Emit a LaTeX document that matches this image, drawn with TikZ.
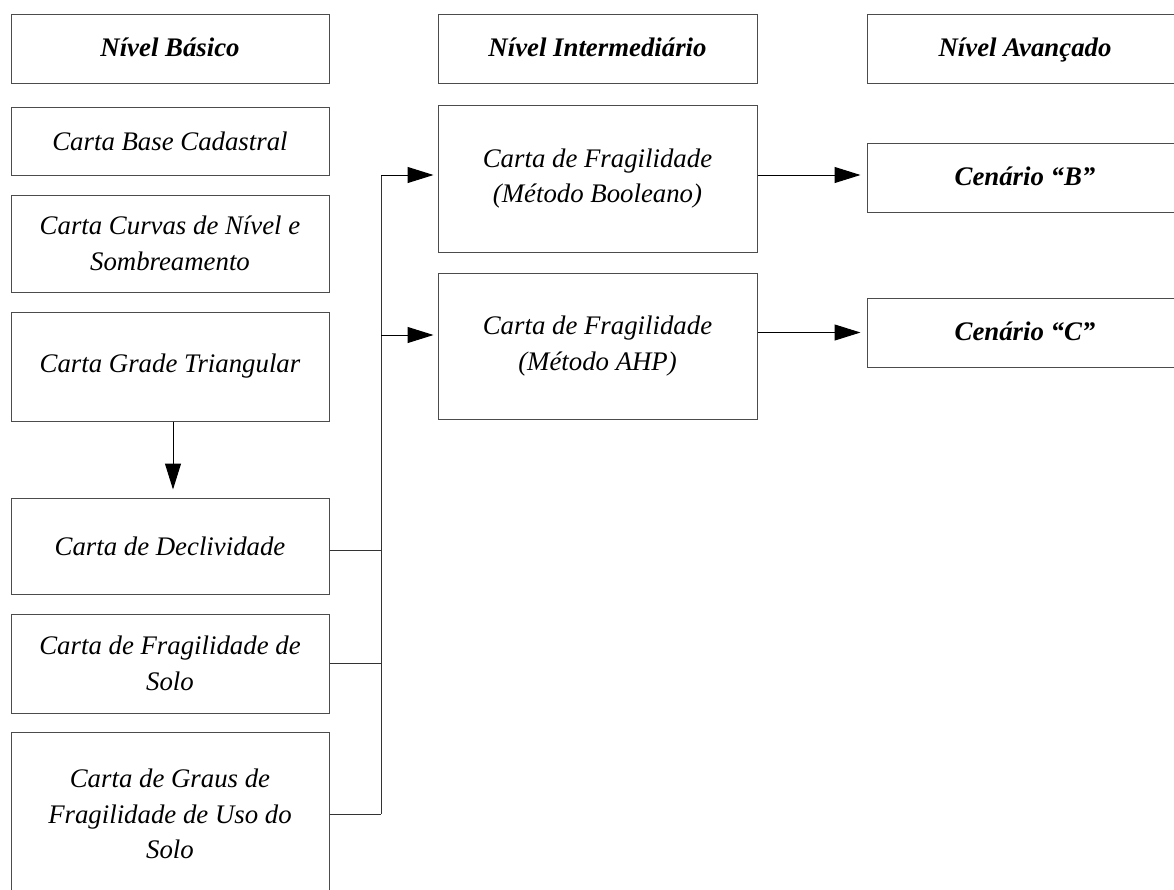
\documentclass[tikz,border=0pt]{standalone}
\usepackage{fontspec}
\setmainfont{Liberation Serif}
\usetikzlibrary{arrows.meta,positioning}
\tikzset{
  carta/.style={rectangle, draw=black!70, line width=1pt, fill=white, align=center, inner sep=0pt, font=\itshape\fontsize{26.8}{35.5}\selectfont},
  nivel/.style={carta, minimum height=69pt, text height=20pt, text depth=4pt, font=\bfseries\itshape\fontsize{26.8}{35.5}\selectfont},
  colA/.style={minimum width=318pt},
  colB/.style={minimum width=319pt},
  colC/.style={minimum width=316pt},
  linha/.style={line width=1pt, black!80},
  seta/.style={-{Triangle[length=26pt, width=16pt]}, line width=1pt, black}
}
\begin{document}
\begin{tikzpicture}[x=1pt, y=-1pt]
  \useasboundingbox (0,0) rectangle (1174,889);
  \clip (0,0) rectangle (1174,889);
  % niveis
  \node[nivel, colA] (nb) at (170,48.5) {Nível Básico};
  \node[nivel, colB] (ni) at (597.5,48.5) {Nível Intermediário};
  \node[nivel, colC] (na) at (1025,48.5) {Nível Avançado};
  % nivel basico
  \node[carta, colA, minimum height=68pt] (base) at (170,141) {Carta Base Cadastral};
  \node[carta, colA, minimum height=97pt] (curvas) at (170,243.5) {Carta Curvas de Nível e\\Sombreamento};
  \node[carta, colA, minimum height=109pt] (grade) at (170,366.5) {Carta Grade Triangular};
  \node[carta, colA, minimum height=96pt] (decliv) at (170,546) {Carta de Declividade};
  \node[carta, colA, minimum height=99pt] (fsolo) at (170,663.5) {Carta de Fragilidade de\\Solo};
  \node[carta, colA, minimum height=164pt] (graus) at (170,814) {Carta de Graus de\\Fragilidade de Uso do\\Solo};
  % nivel intermediario
  \node[carta, colB, minimum height=147pt] (bool) at (597.5,178.5) {Carta de Fragilidade\\(Método Booleano)};
  \node[carta, colB, minimum height=146pt] (ahp) at (597.5,346) {Carta de Fragilidade\\(Método AHP)};
  % nivel avancado
  \node[nivel, colC] (cenb) at (1025,177.5) {Cenário “B”};
  \node[nivel, colC] (cenc) at (1025,332.5) {Cenário “C”};
  % ligacoes
  \coordinate (bustop) at (381,175);
  \coordinate (busahp) at (381,335);
  \coordinate (busbot) at (381,814);
  \draw[seta, shorten >=8pt] ([xshift=3pt]grade.south) -- ([xshift=3pt]decliv.north);
  \draw[linha] (bustop) -- (busbot);
  \draw[linha] ([yshift=-4pt]decliv.east) -- ([yshift=-4pt]decliv.east -| bustop);
  \draw[linha] (fsolo.east) -- (fsolo.east -| bustop);
  \draw[linha] (graus.east) -- (busbot);
  \draw[seta, shorten >=4pt] (bustop) -- (bustop -| bool.west);
  \draw[seta, shorten >=4pt] (busahp) -- (busahp -| ahp.west);
  \draw[seta, shorten >=6pt] (bool.east |- bustop) -- (cenb.west |- bustop);
  \draw[seta, shorten >=6pt] (ahp.east |- cenc) -- (cenc.west);
\end{tikzpicture}
\end{document}
